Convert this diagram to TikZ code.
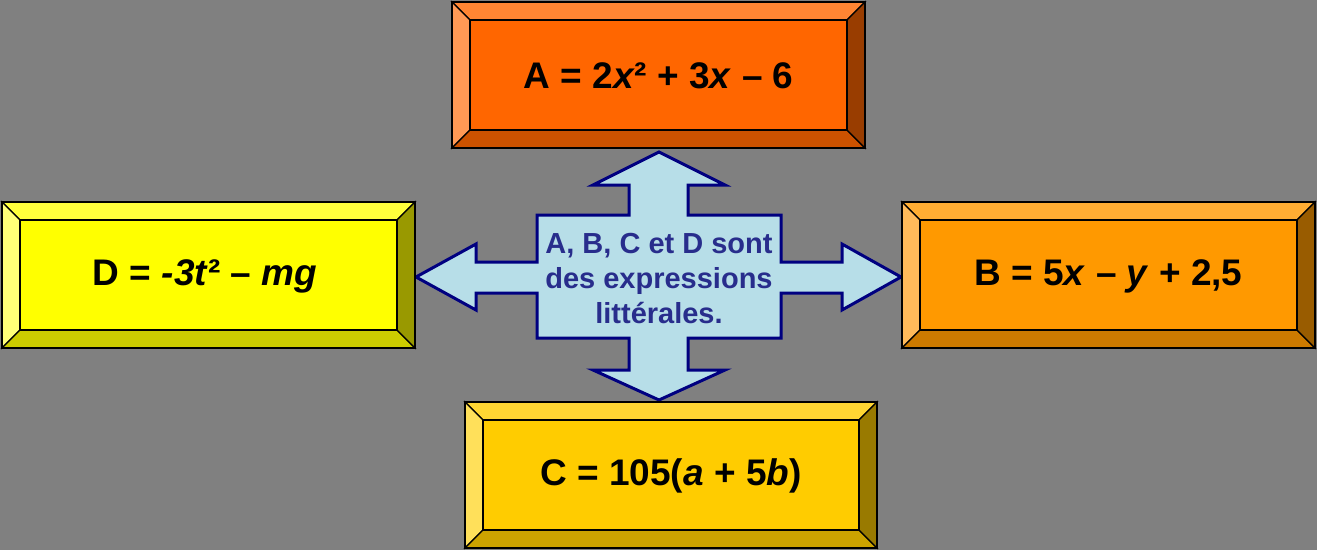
\documentclass[tikz,border=0pt]{standalone}
\usepackage{fontspec}
\setmainfont{Liberation Sans}
\definecolor{bg}{RGB}{128,128,128}
\definecolor{aM}{RGB}{255,102,0}\definecolor{aT}{RGB}{255,133,51}\definecolor{aL}{RGB}{255,153,85}\definecolor{aB}{RGB}{204,82,0}\definecolor{aR}{RGB}{153,61,0}
\definecolor{bM}{RGB}{255,153,0}\definecolor{bT}{RGB}{255,173,51}\definecolor{bL}{RGB}{255,186,90}\definecolor{bB}{RGB}{204,122,0}\definecolor{bR}{RGB}{153,92,0}
\definecolor{cM}{RGB}{255,204,0}\definecolor{cT}{RGB}{255,214,51}\definecolor{cL}{RGB}{255,224,90}\definecolor{cB}{RGB}{204,163,0}\definecolor{cR}{RGB}{153,122,0}
\definecolor{dM}{RGB}{255,255,0}\definecolor{dT}{RGB}{255,255,60}\definecolor{dL}{RGB}{255,255,120}\definecolor{dB}{RGB}{204,204,0}\definecolor{dR}{RGB}{153,153,0}
\definecolor{arrfill}{RGB}{183,222,232}
\definecolor{arrline}{RGB}{0,0,128}
\definecolor{arrtext}{RGB}{40,45,140}
\newcommand\bevbox[9]{%
  \fill[#5] (#1,#2) rectangle (#3,#4);
  \filldraw[fill=#6,bevline] (#1,#2) -- (#3,#2) -- (#3-18,#2+18) -- (#1+18,#2+18) -- cycle;
  \filldraw[fill=#7,bevline] (#1,#2) -- (#1+18,#2+18) -- (#1+18,#4-18) -- (#1,#4) -- cycle;
  \filldraw[fill=#8,bevline] (#1,#4) -- (#1+18,#4-18) -- (#3-18,#4-18) -- (#3,#4) -- cycle;
  \filldraw[fill=#9,bevline] (#3,#2) -- (#3,#4) -- (#3-18,#4-18) -- (#3-18,#2+18) -- cycle;
  \draw[bevline] (#1+18,#2+18) rectangle (#3-18,#4-18);
  \draw[outerline] (#1,#2) rectangle (#3,#4);
}
\tikzset{
  bevline/.style={draw=black,line width=1.3pt,line join=miter},
  outerline/.style={draw=black,line width=2.6pt},
  boxtext/.style={font=\fontsize{37}{44}\selectfont\bfseries,text=black,inner sep=0pt},
  centertext/.style={font=\fontsize{29}{35}\selectfont\bfseries,text=arrtext,align=center,inner sep=0pt},
  bigarrow/.style={fill=arrfill,draw=arrline,line width=3pt,line join=miter},
}
\begin{document}
\begin{tikzpicture}[x=1pt,y=-1pt]
\fill[bg] (0,0) rectangle (1317,550);
\useasboundingbox (0,0) rectangle (1317,550);
% central four-way arrow
\draw[bigarrow] (659,152) -- (725,185) -- (688,185) -- (688,215) -- (781,215) -- (781,262) -- (842,262) -- (842,244) -- (901,277) -- (842,310) -- (842,293) -- (781,293) -- (781,338) -- (688,338) -- (688,370) -- (725,370) -- (659,400) -- (593,370) -- (629,370) -- (629,338) -- (537,338) -- (537,293) -- (476,293) -- (476,310) -- (416,277) -- (476,244) -- (476,262) -- (537,262) -- (537,215) -- (629,215) -- (629,185) -- (593,185) -- cycle;
\node[centertext] (centre) at (659,279) {A, B, C et D sont\\des expressions\\littérales.};
% boxes
\bevbox{452}{2}{865}{148}{aM}{aT}{aL}{aB}{aR}
\node[boxtext] (A) at (658.5,76) {A = 2\textit{x}² + 3\textit{x} – 6};
\bevbox{2}{202}{415}{348}{dM}{dT}{dL}{dB}{dR}
\node[boxtext] (D) at (205,276) {D = \textit{-3t}² – \textit{mg}};
\bevbox{902}{202}{1315}{348}{bM}{bT}{bL}{bB}{bR}
\node[boxtext] (B) at (1108.5,276) {B = 5\textit{x} – \textit{y} + 2,5};
\bevbox{465}{402}{877}{548}{cM}{cT}{cL}{cB}{cR}
\node[boxtext] (C) at (671,476) {C = 105(\textit{a} + 5\textit{b})};
\end{tikzpicture}
\end{document}
